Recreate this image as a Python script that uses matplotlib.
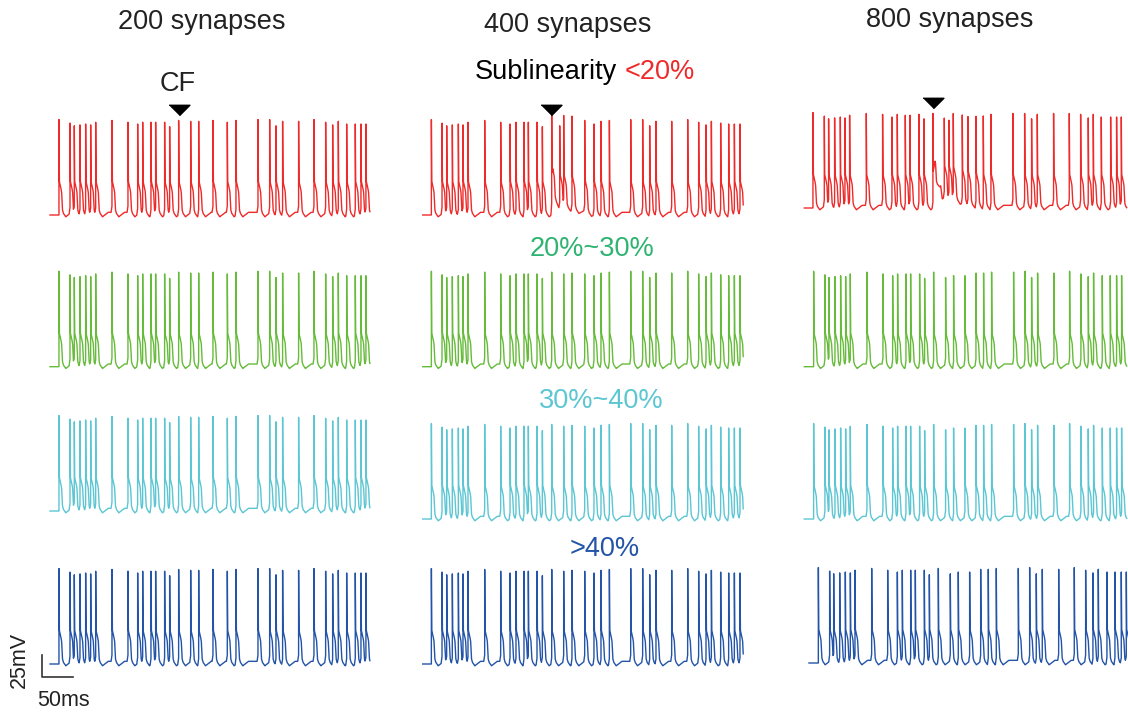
import numpy as np
import matplotlib
matplotlib.use("Agg")
import matplotlib.pyplot as plt

plt.rcParams['font.family'] = ['Liberation Sans', 'DejaVu Sans']

# spike times (ms) and spike peaks (mV)
spk_200 = [14.5, 32.3, 39.2, 48.4, 57.5, 65.6, 73.7, 100.0, 125.8, 141.4, 149.5, 162.9, 170.4, 184.9, 193.0,
           207.5, 226.9, 239.8, 262.9, 286.0, 300.0, 335.5, 354.3, 364.5, 375.2, 401.0, 425.8, 444.6, 455.9,
           465.0, 478.5, 492.4, 501.6, 509.6]
pk_200 = [42, 38, 35, 36, 37, 36, 39, 41, 39, 37, 39, 39, 39, 39, 34, 41, 40, 40, 41, 39, 41, 42, 42, 35,
          40, 40, 42, 39, 36, 40, 37, 37, 37, 37]

spk_400 = [14.0, 31.2, 38.7, 47.8, 57.5, 65.0, 73.1, 100.0, 125.8, 140.9, 150.5, 163.4, 170.4, 184.4, 193.0,
           208.1, 227.4, 240.8, 261.3, 276.3, 287.6, 301.1, 335.5, 354.8, 366.1, 376.3, 401.6, 427.4, 445.1,
           457.0, 465.6, 480.6, 493.5, 502.7, 511.8]
pk_400 = [42, 38, 35, 36, 37, 36, 39, 41, 39, 37, 39, 39, 39, 39, 34, 41, 39, 40, 39, 37, 40, 41, 42, 42,
          35, 40, 40, 42, 39, 36, 40, 38, 37, 37, 37]
# extra small spike right after CF in the 400 synapse / <20% trace
spk_400_extra = [221.0]
pk_400_extra = [27]

spk_800_sub = [14.0, 32.3, 39.2, 48.9, 58.1, 65.6, 73.1, 100.0, 126.3, 141.4, 150.0, 162.9, 170.4, 184.9, 193.0,
               207.5, 225.8, 233.3, 240.3, 254.8, 264.0, 276.9, 288.7, 301.1, 336.5, 355.4, 366.6, 375.8,
               402.1, 427.4, 445.7, 458.0, 466.1, 479.0, 494.1, 503.7, 511.3]
pk_800_sub = [42, 38, 35, 36, 37, 36, 39, 41, 40, 37, 40, 39, 39, 40, 35, 41, 26, 24, 32, 34, 34, 36, 38, 40,
              41, 41, 35, 40, 41, 41, 40, 36, 40, 37, 37, 37, 37]

spk_800 = [15.1, 33.3, 39.8, 49.5, 58.6, 66.7, 74.2, 101.1, 126.9, 142.5, 150.5, 164.0, 171.5, 186.0, 194.1,
           208.6, 227.9, 240.8, 259.1, 276.9, 289.2, 302.1, 337.6, 355.9, 366.6, 376.3, 402.7, 427.9, 446.2,
           458.0, 466.6, 480.6, 493.5, 503.7, 511.8]
pk_800 = [42, 38, 35, 36, 37, 36, 39, 41, 39, 37, 39, 39, 39, 39, 34, 41, 35, 37, 37, 40, 40, 41, 41, 42,
          35, 40, 40, 42, 39, 36, 40, 37, 37, 37, 37]

# depolarisation after the CF input (ms, mV)
cf_400_t = [207.0, 210.0, 218.0, 221.0, 235.0, 255.0, 275.0]
cf_400_v = [0, 18, 12, 8, 7, 3, 0]
cf_800_t = [207.5, 211.0, 220.0, 222.5, 240.0, 260.0, 290.0]
cf_800_v = [0, 24, 26, 10, 9, 4, 0]

cf_time = 207.5
durations = [516, 517, 520]
col_titles = ['200 synapses', '400 synapses', '800 synapses']
colors = ['#ee2b2b', '#66bb3a', '#5cc6d3', '#2354a8']

# spike shape (ms after spike, mV above rest), peak filled per spike
rest = -65.0
shape_t = np.array([0.0, 0.5, 2.5, 4.2, 5.5, 7.0, 11.0, 20.0, 80.0])
shape_v = np.array([0.0, 38, 32, 26, 6, 2, -2, 3, 3])


def make_trace(spikes, peaks, T, plat_t=None, plat_v=None):
    order = np.argsort(spikes)
    sp = np.array(spikes)[order]
    pk = np.array(peaks)[order]
    t = np.arange(0, T, 0.05)
    v = np.zeros_like(t)
    for i, s in enumerate(sp):
        nxt = sp[i + 1] if i + 1 < len(sp) else T + 50
        m = (t >= s) & (t < nxt)
        kv = shape_v.copy()
        kv[0] = pk[i] - rest
        seg = np.interp(t[m] - s, shape_t, kv)
        seg += np.interp(t[m], [nxt - 1.5, nxt - 0.05], [0, 7], left=0, right=7)
        v[m] = seg
    if plat_t is not None:
        v += np.interp(t, plat_t, plat_v, left=0, right=0)
    return t, rest + v


W, H = 1128, 714
ms_px = 50 / 31.0
mv_px = 25 / 22.3

fig = plt.figure(figsize=(W / 100, H / 100), dpi=100)

# trace start x (px) and resting baseline y (px) per column / row
lefts = [[50, 50, 50, 50], [422.7, 422.7, 422.7, 422.7], [804.3, 804.3, 804.3, 809]]
bases = [[215, 366.7, 511, 664], [215, 366.7, 519, 664], [208, 366.7, 519, 663]]

traces = [
    [(spk_200, pk_200, None, None)] * 4,
    [(spk_400 + spk_400_extra, pk_400 + pk_400_extra, cf_400_t, cf_400_v)] + [(spk_400, pk_400, None, None)] * 3,
    [(spk_800_sub, pk_800_sub, cf_800_t, cf_800_v)] + [(spk_800, pk_800, None, None)] * 3,
]

axes = {}
for c in range(3):
    T = durations[c]
    for r in range(4):
        L = lefts[c][r]
        B = bases[c][r]
        ax = fig.add_axes([L / W, 1 - (B + 20) / H, (T / ms_px) / W, 130 / H])
        ax.set_xlim(0, T)
        ax.set_ylim(rest - 20 * mv_px, rest + 110 * mv_px)
        ax.set_axis_off()
        sp, pk, pt, pv = traces[c][r]
        t, v = make_trace(sp, pk, T, pt, pv)
        ax.plot(t, v, color=colors[r], lw=1.0, clip_on=False)
        axes[(c, r)] = ax
    # CF marker above the first row
    axes[(c, 0)].plot([cf_time], [rest + 105 * mv_px], marker=[(-1, 0.5), (1, 0.5), (0, -0.5)],
                      ms=15, color='black', clip_on=False)

# scale bar
sb = axes[(0, 3)]
x0 = -8 * ms_px
y0 = rest - 13 * mv_px
sb.plot([x0, x0, x0 + 50], [y0 + 25, y0, y0], color='#333333', lw=1.2, clip_on=False)

def ftext(x, y, s, **kw):
    fig.text(x / W, 1 - y / H, s, ha=kw.pop('ha', 'center'), va=kw.pop('va', 'center'), **kw)

ftext(202, 22, col_titles[0], fontsize=19.5, color='#222222')
ftext(568, 25, col_titles[1], fontsize=19.5, color='#222222')
ftext(950, 20, col_titles[2], fontsize=19.5, color='#222222')
ftext(178, 84, 'CF', fontsize=19.5, color='#222222')
ftext(617, 72, 'Sublinearity', fontsize=19.5, color='black', ha='right')
ftext(625, 72, '<20%', fontsize=19.5, color='#ee2b2b', ha='left')
ftext(592, 249, '20%~30%', fontsize=19.5, color='#2eb371')
ftext(601, 401, '30%~40%', fontsize=19.5, color='#5cc6d3')
ftext(605, 549, '>40%', fontsize=19.5, color='#2354a8')
ftext(19, 660, '25mV', fontsize=15.5, color='#222222', rotation=90)
ftext(63, 700, '50ms', fontsize=15.5, color='#222222')

fig.savefig('out.png', dpi=100)
